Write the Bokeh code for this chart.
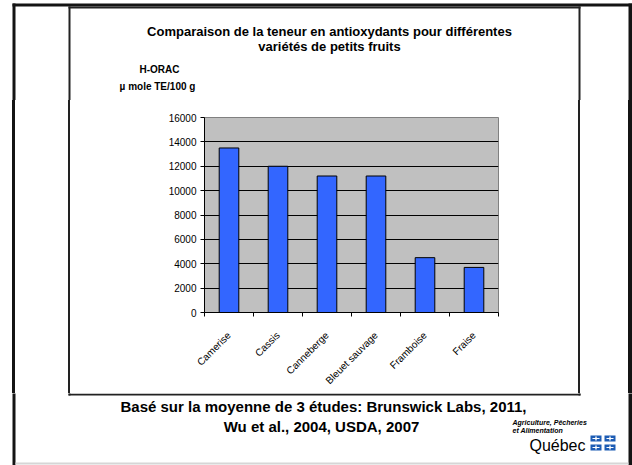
import math
from bokeh.plotting import figure
from bokeh.layouts import column, row
from bokeh.models import Range1d, FixedTicker, Label, ColumnDataSource, Spacer
from bokeh.embed import file_html
from bokeh.resources import INLINE

# ---- data ----
categories = ["Camerise", "Cassis", "Canneberge", "Bleuet sauvage", "Framboise", "Fraise"]
horac = [13500, 12000, 11200, 11200, 4500, 3700]
y_ticks = [0, 2000, 4000, 6000, 8000, 10000, 12000, 14000, 16000]
title_lines = ["Comparaison de la teneur en antioxydants pour différentes",
               "variétés de petits fruits"]
ylabel_lines = ["H-ORAC", "µ mole TE/100 g"]
footer_lines = ["Basé sur la moyenne de 3 études: Brunswick Labs, 2011,",
                "Wu et al., 2004, USDA, 2007"]
logo_lines = ["Agriculture, Pêcheries", "et Alimentation"]
logo_name = "Québec"

FONT = "Liberation Sans"
W, H = 632, 465
XL, XR = 70, 577          # chart figure horizontal extent on the page
YT, YB = 100, 393         # chart figure vertical extent on the page
PL, PR, PT, PB = 204, 498, 117, 313   # plot area on the page

DARK = "#141414"
LINE = "#222222"
# ---- decorative frame pieces (page pixels): left, right, top, bottom, colour ----
deco_rects = [
    (12, 15, 3, 465, DARK), (12, 632, 3, 6, DARK), (628, 632, 3, 465, DARK),
    (15, 628, 462, 464, "#d6d6d6"),
    (68, 70, 6, 395, LINE), (68, 580, 6, 8, LINE),
    (578, 580, 6, 395, LINE), (68, 580, 393, 395, LINE),
]
flag = []
for (x0, y0) in [(590, 435), (604, 435), (590, 444), (604, 444)]:
    x1, y1 = x0 + 11, y0 + 6
    cx, cy = (x0 + x1) / 2, (y0 + y1) / 2
    flag.append((x0, x1, y0, y1, "#1d5cb4"))
    flag.append((cx - 0.7, cx + 0.7, y0 + 1, y1 - 1, "white"))
    flag.append((x0 + 2, x1 - 2, cy - 0.6, cy + 0.6, "white"))
all_rects = deco_rects + flag


def deco(x0, x1, y0, y1):
    f = figure(width=x1 - x0, height=y1 - y0, x_range=Range1d(x0, x1), y_range=Range1d(y1, y0),
               output_backend="svg", toolbar_location=None, min_border=0,
               x_axis_type=None, y_axis_type=None)
    f.outline_line_color = None
    f.background_fill_color = "white"
    f.border_fill_color = "white"
    src = ColumnDataSource(dict(l=[r[0] for r in all_rects], r=[r[1] for r in all_rects],
                                t=[r[2] for r in all_rects], b=[r[3] for r in all_rects],
                                c=[r[4] for r in all_rects]))
    f.quad(left="l", right="r", top="t", bottom="b", fill_color="c", line_color=None, source=src)
    return f


def text(f, x, y, s, size, style="bold", align="center"):
    f.add_layout(Label(x=x, y=y, text=s, text_font=FONT, text_font_size=size,
                       text_font_style=style, text_align=align, text_baseline="middle",
                       text_color="black"))


def strip(pieces, h):
    # vertical lines beside the chart, built from plain coloured spacers
    return row(*[Spacer(width=w, height=h, background=c) for w, c in pieces])


top = deco(0, W, 0, YT)
bottom = deco(0, W, YB, H)
mid_h = YB - YT
left = strip([(12, "white"), (3, DARK), (53, "white"), (2, LINE)], mid_h)          # 0..70
right = strip([(1, "white"), (2, LINE), (48, "white"), (4, DARK)], mid_h)          # 577..632

text(top, 329, 31, title_lines[0], "13px")
text(top, 329, 46, title_lines[1], "13px")
text(top, 159, 69, ylabel_lines[0], "10px")
text(top, 157, 86, ylabel_lines[1], "10px")

text(bottom, 323, 406, footer_lines[0], "15px")
text(bottom, 321, 426, footer_lines[1], "15px")
text(bottom, 512, 422, logo_lines[0], "7px", style="bold italic", align="left")
text(bottom, 512, 430, logo_lines[1], "7px", style="bold italic", align="left")
text(bottom, 585, 445, logo_name, "16px", style="normal", align="right")

# ---- the chart ----
xs = list(range(len(categories)))
src = ColumnDataSource(dict(x=xs, top=horac, name=categories))

p = figure(width=XR - XL, height=YB - YT, output_backend="svg", toolbar_location=None,
           x_range=Range1d(-0.5, len(categories) - 0.5), y_range=Range1d(0, y_ticks[-1]),
           min_border_left=PL - XL, min_border_top=PT - YT,
           min_border_right=XR - PR, min_border_bottom=YB - PB)
p.background_fill_color = "#C0C0C0"
p.border_fill_color = "white"
p.outline_line_color = "#808080"
p.outline_line_width = 1

p.xgrid.visible = False
p.ygrid.ticker = FixedTicker(ticks=y_ticks)
p.ygrid.grid_line_color = "black"
p.ygrid.grid_line_width = 1

p.vbar(x="x", top="top", width=0.4, source=src, fill_color="#3366FF",
       line_color="black", line_width=1)

ya = p.yaxis[0]
ya.ticker = FixedTicker(ticks=y_ticks)
ya.major_tick_in = 0
ya.major_tick_out = 4
ya.minor_tick_line_color = None
ya.axis_line_color = "black"
ya.major_tick_line_color = "black"
ya.major_label_text_font = FONT
ya.major_label_text_font_size = "10px"
ya.major_label_text_color = "black"
ya.major_label_standoff = 4

xa = p.xaxis[0]
xa.ticker = FixedTicker(ticks=xs, minor_ticks=[i - 0.5 for i in range(len(categories) + 1)])
xa.major_label_overrides = {i: c for i, c in zip(xs, categories)}
xa.major_tick_line_color = None
xa.major_tick_in = 0
xa.major_tick_out = 0
xa.minor_tick_line_color = "black"
xa.minor_tick_in = 0
xa.minor_tick_out = 4
xa.axis_line_color = "black"
xa.major_label_orientation = math.pi / 4
xa.major_label_text_font = FONT
xa.major_label_text_font_size = "10px"
xa.major_label_text_color = "black"
xa.major_label_standoff = 17

layout = column(top, row(left, p, right), bottom)
open("out.html", "w").write(file_html(layout, INLINE))
